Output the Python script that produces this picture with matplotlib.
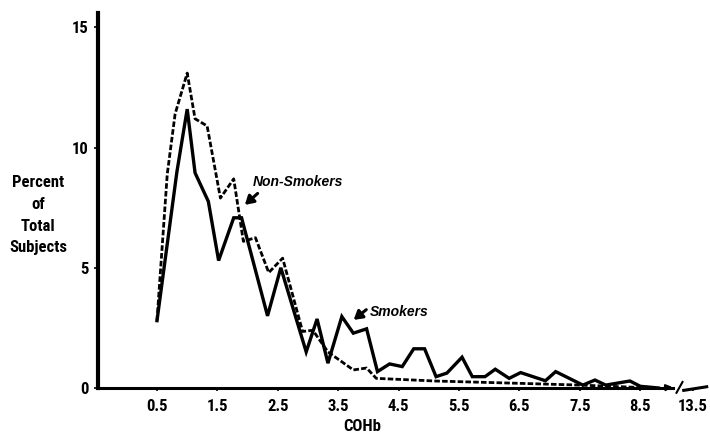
import numpy as np
import matplotlib.pyplot as plt
from matplotlib import font_manager

# narrow bold face for the labels, whichever is installed
installed = {f.name for f in font_manager.fontManager.ttflist}
narrow = [n for n in ['Liberation Sans Narrow', 'DejaVu Sans Condensed',
                      'Roboto Condensed', 'Open Sans Condensed'] if n in installed]
plt.rcParams['font.family'] = narrow + ['DejaVu Sans']
plt.rcParams['font.weight'] = 'bold'
plt.rcParams['font.stretch'] = 'condensed'

# non-smokers (dotted curve)
ns_x = [0.5, 0.67, 0.8, 1.0, 1.13, 1.33, 1.55, 1.77, 1.93, 2.13, 2.35, 2.58,
        2.91, 3.08, 3.33, 3.75, 3.97, 4.13, 5.1, 6.4, 7.5, 8.7]
ns_y = [2.8, 8.9, 11.4, 13.1, 11.2, 10.9, 7.9, 8.7, 6.1, 6.25, 4.8, 5.4,
        2.35, 2.4, 1.5, 0.75, 0.83, 0.4, 0.29, 0.2, 0.12, 0.0]

# smokers (solid curve)
sm_x = [0.5, 0.83, 1.0, 1.13, 1.35, 1.52, 1.77, 1.9, 2.33, 2.55, 2.97, 3.15,
        3.33, 3.56, 3.75, 3.97, 4.15, 4.35, 4.56, 4.75, 4.93, 5.12, 5.3, 5.55,
        5.72, 5.93, 6.1, 6.33, 6.52, 6.93, 7.1, 7.55, 7.75, 7.93, 8.33, 8.5, 8.8]
sm_y = [2.8, 9.0, 11.6, 8.95, 7.76, 5.3, 7.08, 7.08, 3.0, 5.0, 1.5, 2.87,
        1.03, 2.97, 2.28, 2.46, 0.68, 1.0, 0.89, 1.63, 1.63, 0.47, 0.62, 1.28,
        0.47, 0.47, 0.78, 0.4, 0.64, 0.3, 0.68, 0.12, 0.33, 0.12, 0.29, 0.07, 0.0]

xticks = [0.5, 1.5, 2.5, 3.5, 4.5, 5.5, 6.5, 7.5, 8.5]
xlabels = ['0.5', '1.5', '2.5', '3.5', '4.5', '5.5', '6.5', '7.5', '8.5']
break_pos = 9.37         # where the far label sits after the axis break
break_label = '13.5'
yticks = [0, 5, 10, 15]

fig = plt.figure(figsize=(7.1, 4.33), dpi=100)
ax = fig.add_axes([0.138, 0.104, 0.862, 0.866])
ax.set_xlim(-0.477, 9.655)
ax.set_ylim(0, 15.6)

ax.plot(ns_x, ns_y, color='black', lw=2.0, linestyle=(0, (2, 0.8)))
ax.plot(sm_x, sm_y, color='black', lw=2.4, solid_joinstyle='miter')

for s in ['top', 'right', 'bottom']:
    ax.spines[s].set_visible(False)
ax.spines['left'].set_linewidth(3)

# x axis with a break before 13.5
ax.plot([-0.477, 9.05], [0, 0], color='black', lw=2.2, clip_on=False)
ax.annotate('', xy=(9.08, 0.05), xytext=(8.85, 0.0),
            arrowprops=dict(arrowstyle='-|>', color='black', lw=1.5,
                            mutation_scale=9), annotation_clip=False)
ax.plot([9.1, 9.2], [-0.2, 0.25], color='black', lw=1.5, clip_on=False)
ax.plot([9.22, 9.6], [-0.1, 0.05], color='black', lw=2.2, clip_on=False)

ax.set_xticks(xticks + [break_pos])
ax.set_xticklabels(xlabels + [break_label])
ax.set_yticks(yticks)
ax.tick_params(axis='x', length=2, width=1.2, pad=6, labelsize=12)
ax.tick_params(axis='y', length=3, width=1.2, pad=4, labelsize=12)

ax.text(3.9, -1.6, 'COHb', ha='center', va='center', fontsize=12)
fig.text(0.054, 0.503, 'Percent\nof\nTotal\nSubjects', ha='center', va='center',
         fontsize=12, linespacing=1.55)

ax.text(2.09, 8.58, 'Non-Smokers', style='italic', fontsize=10, va='center',
        fontfamily=['Liberation Sans', 'DejaVu Sans'])
ax.annotate('', xy=(1.92, 7.54), xytext=(2.2, 8.17),
            arrowprops=dict(arrowstyle='-|>,head_length=0.5,head_width=0.3',
                            color='black', lw=2.2))
ax.text(4.03, 3.17, 'Smokers', style='italic', fontsize=10, va='center',
        fontfamily=['Liberation Sans', 'DejaVu Sans'])
ax.annotate('', xy=(3.72, 2.76), xytext=(4.0, 3.33),
            arrowprops=dict(arrowstyle='-|>,head_length=0.5,head_width=0.3',
                            color='black', lw=2.2))

fig.savefig('out.png', dpi=100)
